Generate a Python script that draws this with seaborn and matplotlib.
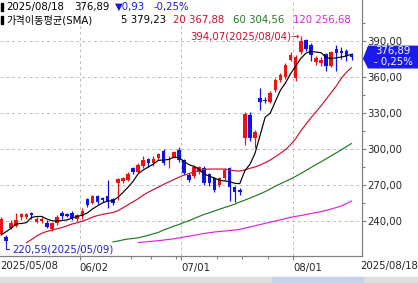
import numpy as np
import pandas as pd
import matplotlib
matplotlib.use("Agg")
import matplotlib.pyplot as plt
from matplotlib.patches import Rectangle, Polygon
from matplotlib.transforms import blended_transform_factory
import seaborn as sns

# ---------------- data ----------------
opens = [229, 226.5, 234, 235.5, 243, 243.5, 246.5, 239.5, 240, 238.5,
         233, 238, 246.5, 246, 247, 241.5, 244, 258, 255, 261,
         259.5, 261, 258, 271.5, 273, 274.5, 284, 281, 285.5, 291.5,
         288, 292.5, 298, 290.5, 293.5, 299, 290.5, 278.5, 277.5, 280.5,
         284, 279, 275.5, 270, 275.5, 284, 268, 266, 309, 328.5,
         309, 342.5, 340.5, 339.5, 349, 357.5, 360, 374, 359, 380.5,
         390.5, 386.5, 372.5, 372, 379, 369, 383.5, 382, 381.5, 378]
highs = [243, 228, 240.5, 247, 247, 247, 247.5, 243.5, 243.5, 240.5,
         239, 245, 248, 247, 248, 246, 250.5, 259.5, 262, 262,
         260, 274.5, 259, 275.5, 276.5, 281, 285, 288, 294, 292.5,
         294, 297, 300, 294, 298.5, 302, 291.5, 280, 286.5, 286,
         286, 280, 277, 277, 284, 285, 269, 267.5, 331, 331,
         316, 350.5, 343.5, 348, 359, 363, 372, 381, 378.5, 394.07,
         392, 388.5, 377.5, 377, 380, 382, 387, 385, 383.5, 380]
lows = [228, 220.59, 233, 235, 241, 242, 242, 238, 238, 234,
        232, 237, 242, 243, 241, 240, 242, 252, 254, 254,
        256, 250.5, 253, 257.5, 271.5, 273.5, 279, 280, 284, 285,
        286, 291, 287, 284, 292.5, 289, 278, 272.5, 276, 279,
        270, 269.5, 264, 268, 274.5, 257, 256, 262, 303, 307,
        300.5, 332.5, 338, 338, 347.5, 356, 358, 373, 357, 379,
        382, 373.5, 370, 369, 365, 368, 365, 375, 373, 374.5]
closes = [242, 223, 238, 241, 245.5, 245.5, 245, 241.5, 241.5, 235,
          238, 243.5, 244, 244, 242.5, 245, 248.5, 253.5, 260.5, 255.5,
          257.5, 256, 254.7, 275, 275.5, 279.5, 280.5, 286.5, 290.5, 288,
          292, 295.5, 288.5, 292, 297.5, 291, 280, 274, 285, 285,
          271.5, 271.5, 266, 275.5, 282.5, 268.5, 264.5, 264.5, 329.5, 309,
          314.5, 339.5, 340, 346.5, 357.5, 361.5, 370, 378.5, 377, 390,
          383.5, 378, 375.5, 374.5, 369, 380.5, 380, 380, 377.82, 376.89]

ma5_head = [228.4, 231, 234, 237.5]
ma20 = [np.nan] * 5 + [
    221.8, 224.5, 227.5, 229.7, 231.2, 232.3, 233.5, 234.5, 236, 237.5,
    238.5, 239.8, 241.3, 243.2, 244.5, 245.5, 246.3, 247, 248.5, 251,
    253.5, 256, 258.5, 261.5, 264, 266.2, 268.2, 270.5, 272.5, 274.5,
    276.3, 278.3, 279.5, 280.8, 282.3, 283, 283.3, 283.3, 283.3, 283.3,
    282.5, 281.8, 281.6, 282.5, 283.9, 285, 286.6, 288.6, 290.8, 293.6,
    296.4, 299.5, 303.5, 308.5, 315, 320.5, 326, 331, 336, 341.5,
    347, 352.5, 359, 364, 367.88]
ma60 = [np.nan] * 22 + [
    222.5, 223.3, 224.2, 225, 225.4, 226, 227, 228, 229.3, 230.5,
    232.5, 234, 235.7, 237, 238.8, 240.2, 242, 243.8, 245.5, 246.8,
    248.3, 249.8, 251.2, 252.5, 254, 255.8, 257.4, 259.1, 260.8, 262.6,
    264.5, 266.7, 269, 271, 273, 275, 277.2, 279.5, 282, 284.5,
    287, 289.3, 291.8, 294.3, 296.8, 299.3, 302, 304.56]
ma120 = [np.nan] * 27 + [
    222, 222.4, 222.8, 223.2, 223.6, 224.1, 224.6, 225.1, 225.8, 226.6,
    227.3, 228, 228.8, 229.6, 230.2, 230.8, 231.2, 231.6, 232, 232.5,
    233, 234, 235, 236, 237, 238, 239, 240, 241, 242,
    243, 243.8, 244.5, 245.3, 246.2, 247, 247.8, 248.8, 250, 251.2,
    252.5, 254.5, 256.68]

month_idx = [15.5, 35.5, 57.5]
month_labels = ["06/02", "07/01", "08/01"]
monday_idx = [25.5, 29.5, 34.5, 42.5, 47.5, 52.5]
yticks = [240, 270, 300, 330, 360, 390]
first_label, last_label = "2025/05/08", "2025/08/18"

# ---------------- styling ----------------
sns.set_style("white")
plt.rcParams['font.family'] = ['DejaVu Sans', 'Noto Sans CJK KR']

UP, DOWN = '#ee1111', '#1111ee'
C20, C60, C120 = '#cc1030', '#1f7a1f', '#dd22dd'
GRID = '#bdbdbd'
AX = '#808080'
FS = 7.3

W, H = 418, 283
fig = plt.figure(figsize=(W / 100, H / 100), dpi=100)
fig.patch.set_facecolor('white')
ax = fig.add_axes([0, 27 / H, 362 / W, 256 / H])
ax.set_facecolor('white')

n = len(closes)
df = pd.DataFrame({"idx": np.arange(n), "open": opens, "high": highs,
                   "low": lows, "close": closes,
                   "ma20": ma20, "ma60": ma60, "ma120": ma120})
ma5 = df["close"].rolling(5).mean()
ma5.iloc[:4] = ma5_head
df["ma5"] = ma5

up = df["close"] >= df["open"]
cols = np.where(up, UP, DOWN)
body_lo = np.minimum(df["open"], df["close"])
body_h = np.maximum(np.abs(df["close"] - df["open"]), 0.7)

ax.vlines(df["idx"], df["low"], df["high"], colors=cols, lw=0.9, zorder=3)
ax.bar(df["idx"], body_h, bottom=body_lo, width=0.7, color=cols,
       linewidth=0, zorder=4)

for col, c in [("ma120", C120), ("ma60", C60), ("ma20", C20), ("ma5", 'black')]:
    sns.lineplot(data=df, x="idx", y=col, ax=ax, color=c, lw=0.85,
                 estimator=None, legend=False, zorder=5)

ax.set_xlim(-0.2, 71.06)
ax.set_ylim(210.8, 424.2)
ax.set_xlabel("")
ax.set_ylabel("")

# axes / grid
for s in ["top", "left"]:
    ax.spines[s].set_visible(False)
for s in ["right", "bottom"]:
    ax.spines[s].set_color(AX)
    ax.spines[s].set_linewidth(0.9)

ax.yaxis.tick_right()
ax.set_yticks(yticks)
ax.set_yticklabels([f"{v:.2f}".replace('.', ',') for v in yticks])
ax.set_yticks([v + 15 for v in yticks], minor=True)
ax.tick_params(axis='y', which='major', direction='out', length=3, width=0.8,
               color=AX, pad=1, labelsize=FS, right=True, left=False)
ax.tick_params(axis='y', which='minor', direction='out', length=2, width=0.8,
               color=AX, right=True, left=False)

ax.set_xticks(month_idx)
ax.set_xticklabels(month_labels)
for lab in ax.get_xticklabels():
    lab.set_ha('left')
ax.set_xticks(monday_idx, minor=True)
ax.tick_params(axis='x', which='major', direction='out', length=3, width=0.8,
               color=AX, pad=2, labelsize=FS, bottom=True)
ax.tick_params(axis='x', which='minor', direction='out', length=2, width=0.8,
               color=AX, bottom=True)

ax.grid(True, which='major', linestyle=(0, (3, 3)), color=GRID, lw=0.7)
ax.set_axisbelow(True)

fig.text(0 / W, 1 - 266 / H, first_label, ha='left', va='center', fontsize=FS)
fig.text(418 / W, 1 - 266 / H, last_label, ha='right', va='center', fontsize=FS)

# annotations of extremes
imax = int(np.argmax(highs))
imin = int(np.argmin(lows))
ax.annotate("394,07(2025/08/04)→", xy=(imax, highs[imax]), xytext=(-0.5, 0),
            textcoords='offset points', ha='right', va='center',
            color='#cc1030', fontsize=FS, zorder=6)
ax.annotate("220,59(2025/05/09)", xy=(imin, lows[imin]), xytext=(4.5, -3.6),
            textcoords='offset points', ha='left', va='center',
            color='#2020c8', fontsize=FS, zorder=6,
            arrowprops=dict(arrowstyle='-', color='#2020c8', lw=0.8,
                            shrinkA=0, shrinkB=0,
                            connectionstyle='angle,angleA=180,angleB=90,rad=0'))

# last price tag
tr = blended_transform_factory(ax.transAxes, ax.transData)
last = closes[-1]
top_v = last + 9.3
bot_v = last - 9.8
poly = Polygon([(363 / 362, last - 1.5), (368 / 362, top_v), (420 / 362, top_v),
                (420 / 362, bot_v), (368 / 362, bot_v)], closed=True,
               transform=tr, facecolor='#1a1af0', edgecolor='none',
               clip_on=False, zorder=10)
ax.add_patch(poly)
fig.text(393 / W, 1 - 51 / H, f"{last:.2f}".replace('.', ','), color='white',
         ha='center', va='center', fontsize=FS, zorder=11)
fig.text(393 / W, 1 - 62.5 / H, "- 0,25%", color='white',
         ha='center', va='center', fontsize=FS, zorder=11)

# header texts
def ftxt(x, y, s, c='black'):
    fig.text(x / W, 1 - y / H, s, color=c, ha='left', va='center', fontsize=FS)

fig.patches.append(Rectangle((1 / W, 1 - 11 / H), 2 / W, 8 / H,
                             transform=fig.transFigure, color='black'))
fig.patches.append(Rectangle((1 / W, 1 - 24 / H), 2 / W, 8 / H,
                             transform=fig.transFigure, color='black'))
ftxt(6, 7, "2025/08/18")
ftxt(74, 7, "376,89")
ftxt(115, 7, "▼0,93", '#1a1ad0')
ftxt(153, 7, "-0,25%", '#1a1ad0')
ftxt(6, 20, "가격이동평균(SMA)")
ftxt(121, 20, "5 379,23")
ftxt(173, 20, "20 367,88", C20)
ftxt(233, 20, "60 304,56", C60)
ftxt(293, 20, "120 256,68", C120)

# scrollbar strip at the very bottom
fig.patches.append(Rectangle((0, 0), 1, 6 / H, transform=fig.transFigure,
                             color='#dedede', zorder=0))
fig.patches.append(Rectangle((272 / W, 0), 91 / W, 6 / H,
                             transform=fig.transFigure, color='#c4d2ea',
                             zorder=0))

fig.savefig("out.png", dpi=100)
